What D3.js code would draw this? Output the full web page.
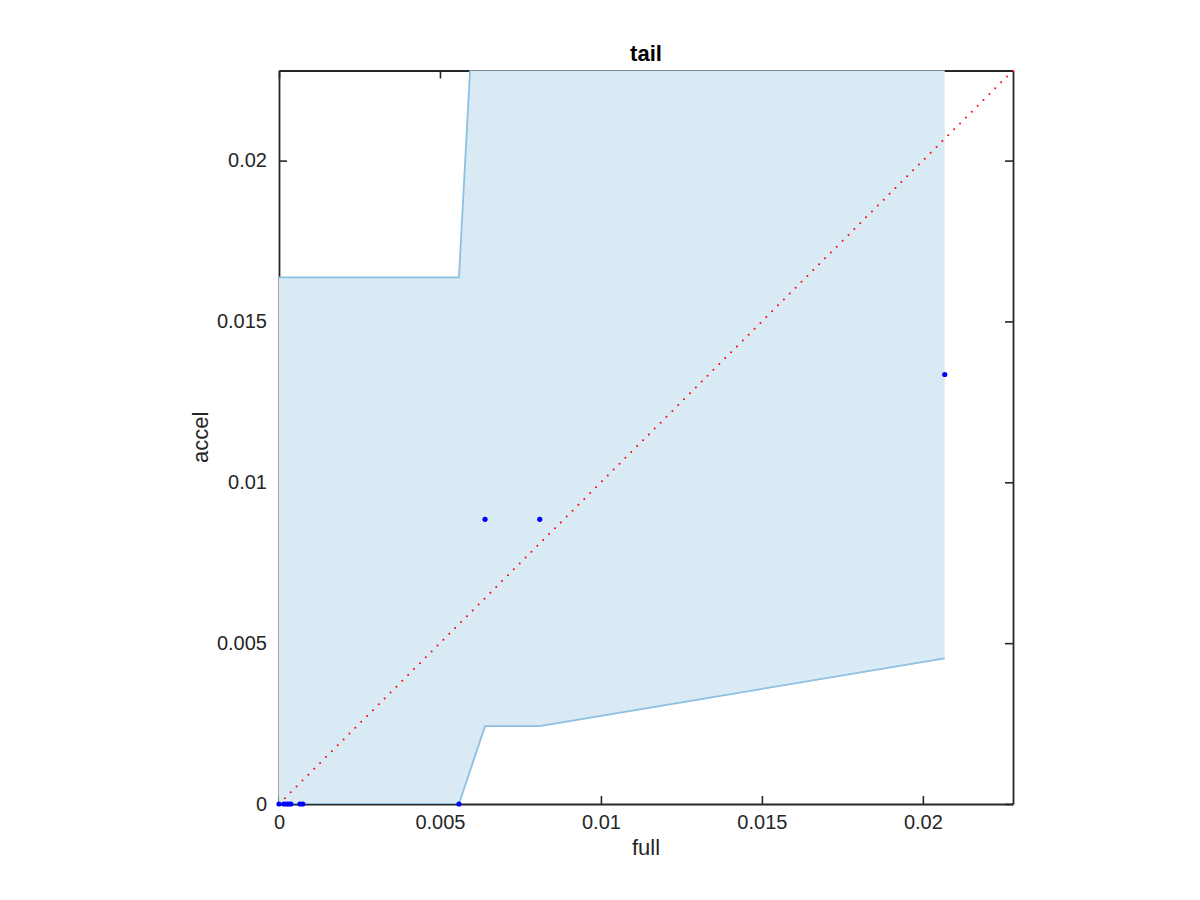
<!DOCTYPE html>
<html><head><meta charset="utf-8">
<script src="https://cdn.jsdelivr.net/npm/d3@7"></script>
<style>body{margin:0;background:#fff;} text{font-family:Helvetica,"Liberation Sans",Arial,sans-serif;}</style>
</head><body>
<svg id="chart" width="1200" height="900"></svg>
<script>
// Data
const xTicks = [0, 0.005, 0.01, 0.015, 0.02];
const yTicks = [0, 0.005, 0.01, 0.015, 0.02];
const xTickLabels = ["0", "0.005", "0.01", "0.015", "0.02"];
const yTickLabels = ["0", "0.005", "0.01", "0.015", "0.02"];
const axisMax = 0.0228;
// band boundaries
const bandUpperX = [0, 0.00559, 0.0064, 0.0081, 0.02068];
const bandUpperY = [0.01637, 0.01637, 0.0315, 0.036, 0.040];
const bandLowerX = [0, 0.00559, 0.0064, 0.0081, 0.02068];
const bandLowerY = [0, 0, 0.00242, 0.00242, 0.00453];
// points
const pointsX = [0, 0.00015, 0.00024, 0.00031, 0.00037, 0.00065, 0.00074, 0.00559, 0.0064, 0.0081, 0.02068];
const pointsY = [0, 0, 0, 0, 0, 0, 0, 0, 0.00885, 0.00885, 0.01335];
const diagX = [0, axisMax];
const diagY = [0, axisMax];

const svg = d3.select("#chart");
const L = 279, R = 1013, T = 70.5, B = 804;
const x = d3.scaleLinear().domain([0, axisMax]).range([L, R]);
const y = d3.scaleLinear().domain([0, axisMax]).range([B, T]);

svg.append("defs").append("clipPath").attr("id", "clip")
  .append("rect").attr("x", L).attr("y", T).attr("width", R - L).attr("height", B - T);

const axisColor = "#262626";
const font = "Helvetica, 'Liberation Sans', Arial, sans-serif";
// Axes
const gx = svg.append("g").attr("transform", `translate(0,${B})`)
  .call(d3.axisBottom(x).tickValues(xTicks).tickFormat((d, i) => xTickLabels[i]).tickSizeInner(-8).tickSizeOuter(0).tickPadding(11));
const gxt = svg.append("g").attr("transform", `translate(0,${T})`)
  .call(d3.axisTop(x).tickValues(xTicks).tickFormat("").tickSizeInner(-8).tickSizeOuter(0));
const gy = svg.append("g").attr("transform", `translate(${L},0)`)
  .call(d3.axisLeft(y).tickValues(yTicks).tickFormat((d, i) => yTickLabels[i]).tickSizeInner(-8).tickSizeOuter(0).tickPadding(12));
const gyr = svg.append("g").attr("transform", `translate(${R},0)`)
  .call(d3.axisRight(y).tickValues(yTicks).tickFormat("").tickSizeInner(-8).tickSizeOuter(0));
[gx, gxt, gy, gyr].forEach(g => {
  g.select(".domain").attr("stroke", axisColor).attr("stroke-width", 1.8);
  g.selectAll(".tick line").attr("stroke", axisColor).attr("stroke-width", 1.6);
  g.selectAll(".tick text").attr("fill", axisColor).attr("font-size", 20).attr("font-family", font);
});

// Band
const upper = bandUpperX.map((v, i) => [v, bandUpperY[i]]);
const lower = bandLowerX.map((v, i) => [v, bandLowerY[i]]);
const poly = upper.concat(lower.slice().reverse());
const line = d3.line().x(d => x(d[0])).y(d => y(d[1]));
const plot = svg.append("g").attr("clip-path", "url(#clip)");
plot.append("path").attr("d", line(poly) + "Z").attr("fill", "#d9eaf5").attr("stroke", "none");
plot.append("path").attr("d", line(upper)).attr("fill", "none").attr("stroke", "#8cc0e2").attr("stroke-width", 1.8);
plot.append("path").attr("d", line(lower)).attr("fill", "none").attr("stroke", "#8cc0e2").attr("stroke-width", 1.8);

// Diagonal (dotted)
svg.append("path")
  .attr("d", d3.line()(diagX.map((v, i) => [x(v), y(diagY[i])])))
  .attr("stroke", "#ff0000").attr("stroke-width", 2).attr("fill", "none")
  .attr("stroke-linecap", "round").attr("stroke-dasharray", "0,8.3");

// Points
svg.append("g").selectAll("circle").data(pointsX).join("circle")
  .attr("cx", d => x(d)).attr("cy", (d, i) => y(pointsY[i])).attr("r", 2.6).attr("fill", "#0000ff");

// Title & labels
svg.append("text").attr("x", (L + R) / 2).attr("y", 61).attr("text-anchor", "middle")
  .attr("font-weight", "bold").attr("font-size", 22).attr("fill", "#000").attr("font-family", font).text("tail");
svg.append("text").attr("x", (L + R) / 2).attr("y", 855).attr("text-anchor", "middle")
  .attr("font-size", 22).attr("fill", axisColor).attr("font-family", font).text("full");
svg.append("text").attr("transform", `translate(208,${(T + B) / 2}) rotate(-90)`).attr("text-anchor", "middle")
  .attr("font-size", 22).attr("fill", axisColor).attr("font-family", font).text("accel");
</script>
</body></html>
